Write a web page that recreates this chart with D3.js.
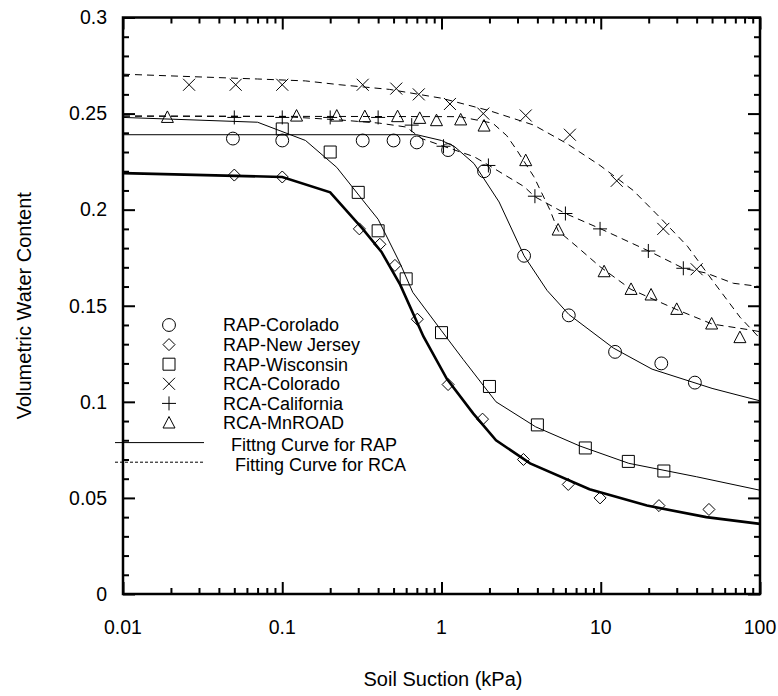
<!DOCTYPE html>
<html>
<head>
<meta charset="utf-8">
<script src="https://cdn.jsdelivr.net/npm/d3@7"></script>
<style>
  body { margin: 0; background: #fff; }
  text { font-family: "Liberation Sans", Arial, sans-serif; fill: #000; }
</style>
</head>
<body>
<svg id="chart"></svg>
<script>
// measured points (suction kPa, volumetric water content)
const rapColorado = [[0.049,0.237],[0.1,0.236],[0.32,0.236],[0.5,0.236],[0.7,0.235],[1.1,0.231],[1.85,0.22],[3.3,0.176],[6.3,0.145],[12.3,0.126],[24,0.12],[39,0.11]];
const rapNewJersey = [[0.05,0.218],[0.1,0.217],[0.305,0.19],[0.41,0.182],[0.51,0.171],[0.705,0.143],[1.1,0.109],[1.81,0.091],[3.27,0.07],[6.25,0.057],[9.9,0.05],[23.2,0.046],[47.8,0.044]];
const rapWisconsin = [[0.1,0.242],[0.2,0.23],[0.3,0.209],[0.4,0.189],[0.6,0.164],[1.0,0.136],[2.0,0.108],[4.0,0.088],[8.0,0.076],[14.9,0.069],[24.9,0.064]];
const rcaColorado = [[0.026,0.265],[0.051,0.265],[0.1,0.265],[0.32,0.265],[0.52,0.263],[0.72,0.26],[1.13,0.255],[1.83,0.25],[3.38,0.249],[6.4,0.239],[12.6,0.215],[24.7,0.19],[40,0.169]];
const rcaCalifornia = [[0.05,0.248],[0.1,0.248],[0.2,0.248],[0.4,0.248],[0.65,0.244],[1.03,0.233],[1.97,0.223],[3.86,0.207],[6,0.198],[9.9,0.19],[19.9,0.1785],[33,0.1695]];
const rcaMnroad = [[0.019,0.248],[0.123,0.2487],[0.22,0.2487],[0.33,0.2484],[0.53,0.2484],[0.73,0.2475],[0.93,0.2463],[1.32,0.2467],[1.85,0.2435],[3.38,0.2255],[5.4,0.1894],[10.5,0.1677],[15.5,0.1585],[20.7,0.1556],[30,0.1481],[49.7,0.1405],[74.8,0.1334]];

// fitting curves
const fitRapColorado = [[0.01,0.239],[0.7,0.239],[1.0,0.236],[1.2,0.233],[1.6,0.224],[2.3,0.204],[3.3,0.176],[4.6,0.158],[6.3,0.1455],[12,0.128],[21,0.117],[50,0.107],[100,0.1005]];
const fitRapNewJersey = [[0.01,0.219],[0.1,0.217],[0.2,0.209],[0.32,0.19],[0.42,0.178],[0.55,0.161],[0.77,0.134],[1.08,0.112],[1.58,0.094],[2.2,0.08],[3.6,0.068],[8.5,0.0545],[19.5,0.046],[46,0.04],[100,0.0365]];
const fitRapWisconsin = [[0.01,0.248],[0.07,0.2455],[0.14,0.236],[0.22,0.222],[0.32,0.205],[0.4,0.195],[0.55,0.172],[0.66,0.157],[1.0,0.137],[1.37,0.122],[2.2,0.1],[3.9,0.087],[7.4,0.077],[15,0.068],[40,0.061],[100,0.054]];
const fitRcaColorado = [[0.01,0.2705],[0.07,0.268],[0.14,0.267],[0.23,0.265],[0.47,0.2626],[1.0,0.258],[2.0,0.2515],[3.8,0.244],[6.1,0.2345],[9.9,0.223],[16,0.21],[23.5,0.196],[35,0.181],[51,0.1625],[75,0.144],[100,0.133]];
const fitRcaCalifornia = [[0.01,0.2487],[0.1,0.2485],[0.23,0.2467],[0.41,0.245],[0.6,0.243],[0.75,0.237],[1.03,0.233],[1.6,0.2276],[1.97,0.2232],[3.3,0.212],[3.86,0.2067],[6,0.198],[10,0.19],[20,0.1785],[33,0.1695],[46,0.167],[68,0.1617],[100,0.16]];
const fitRcaMnroad = [[0.01,0.2487],[1.3,0.2484],[2.1,0.245],[2.57,0.2385],[2.97,0.231],[3.8,0.2172],[4.8,0.1998],[5.4,0.189],[7.1,0.1807],[9.9,0.1703],[15.5,0.1585],[30,0.148],[50,0.1405],[87,0.1374],[100,0.1365]];

const seriesNames = ["RAP-Corolado", "RAP-New Jersey", "RAP-Wisconsin", "RCA-Colorado", "RCA-California", "RCA-MnROAD"];
const fitNames = ["Fittng Curve for RAP", "Fitting Curve for RCA"];
const xTickValues = [0.01, 0.1, 1, 10, 100];
const xTickLabels = ["0.01", "0.1", "1", "10", "100"];
const yTickValues = [0, 0.05, 0.1, 0.15, 0.2, 0.25, 0.3];
const yTickLabels = ["0", "0.05", "0.1", "0.15", "0.2", "0.25", "0.3"];

const width = 778, height = 696;
const plotLeft = 123, plotRight = 760, plotTop = 17.5, plotBottom = 594;

const svg = d3.select("#chart").attr("width", width).attr("height", height);

const x = d3.scaleLog().domain([0.01, 100]).range([plotLeft, plotRight]);
const y = d3.scaleLinear().domain([0, 0.3]).range([plotBottom, plotTop]);

// minor tick positions
const xMinor = [];
[0.01, 0.1, 1, 10].forEach(d => { for (let k = 2; k <= 9; k++) xMinor.push(d * k); });
const yMinor = d3.range(0, 31).map(i => i / 100).filter(v => Math.round(v * 100) % 5 !== 0);

function addAxis(axisFn, scale, values, size, transform) {
  const g = svg.append("g")
    .attr("transform", transform)
    .call(axisFn(scale).tickValues(values).tickSize(size).tickPadding(0).tickFormat(""));
  g.select(".domain").remove();
  g.selectAll(".tick line").attr("stroke", "#000").attr("stroke-width", 2);
  return g;
}

// ticks pointing into the plot on all four sides
addAxis(d3.axisBottom, x, xTickValues, -12, `translate(0,${plotBottom})`);
addAxis(d3.axisBottom, x, xMinor, -6, `translate(0,${plotBottom})`);
addAxis(d3.axisTop, x, xTickValues, -12, `translate(0,${plotTop})`);
addAxis(d3.axisTop, x, xMinor, -6, `translate(0,${plotTop})`);
addAxis(d3.axisLeft, y, yTickValues, -12, `translate(${plotLeft},0)`);
addAxis(d3.axisLeft, y, yMinor, -6, `translate(${plotLeft},0)`);
addAxis(d3.axisRight, y, yTickValues, -12, `translate(${plotRight},0)`);
addAxis(d3.axisRight, y, yMinor, -6, `translate(${plotRight},0)`);

// tick labels
svg.append("g").selectAll("text")
  .data(xTickValues)
  .join("text")
  .attr("x", d => x(d))
  .attr("y", 634)
  .attr("text-anchor", "middle")
  .attr("font-size", 19.5)
  .text((d, i) => xTickLabels[i]);

svg.append("g").selectAll("text")
  .data(yTickValues)
  .join("text")
  .attr("x", 107)
  .attr("y", d => y(d))
  .attr("dy", "0.35em")
  .attr("text-anchor", "end")
  .attr("font-size", 19.5)
  .text((d, i) => yTickLabels[i]);

// frame
svg.append("rect")
  .attr("x", plotLeft).attr("y", plotTop)
  .attr("width", plotRight - plotLeft).attr("height", plotBottom - plotTop)
  .attr("fill", "none").attr("stroke", "#000").attr("stroke-width", 2.5);

// axis titles
svg.append("text")
  .attr("x", 443)
  .attr("y", 686)
  .attr("text-anchor", "middle")
  .attr("font-size", 20)
  .text("Soil Suction (kPa)");

svg.append("text")
  .attr("transform", `translate(31,${(plotTop + plotBottom) / 2}) rotate(-90)`)
  .attr("text-anchor", "middle")
  .attr("font-size", 20)
  .text("Volumetric Water Content");

// fitting curves
const line = d3.line().x(d => x(d[0])).y(d => y(d[1]));
const fits = [
  { data: fitRapColorado, w: 1, dash: null },
  { data: fitRapWisconsin, w: 1, dash: null },
  { data: fitRapNewJersey, w: 2.6, dash: null },
  { data: fitRcaColorado, w: 1, dash: "7,5" },
  { data: fitRcaCalifornia, w: 1, dash: "7,5" },
  { data: fitRcaMnroad, w: 1, dash: "7,5" }
];
svg.append("g").selectAll("path")
  .data(fits)
  .join("path")
  .attr("d", d => line(d.data))
  .attr("fill", "none")
  .attr("stroke", "#000")
  .attr("stroke-width", d => d.w)
  .attr("stroke-dasharray", d => d.dash);

// marker shapes
function marker(type) {
  switch (type) {
    case "circle": return d3.symbol(d3.symbolCircle, 130)();
    case "diamond": return "M0,-6L6,0L0,6L-6,0Z";
    case "square": return "M-6,-6H6V6H-6Z";
    case "x": return "M-6,-6L6,6M-6,6L6,-6";
    case "plus": return "M-7,0H7M0,-7V7";
    case "triangle": return "M0,-6.5L6,5L-6,5Z";
  }
}

const pointSeries = [
  { name: seriesNames[0], data: rapColorado, shape: "circle" },
  { name: seriesNames[1], data: rapNewJersey, shape: "diamond" },
  { name: seriesNames[2], data: rapWisconsin, shape: "square" },
  { name: seriesNames[3], data: rcaColorado, shape: "x" },
  { name: seriesNames[4], data: rcaCalifornia, shape: "plus" },
  { name: seriesNames[5], data: rcaMnroad, shape: "triangle" }
];

pointSeries.forEach(s => {
  svg.append("g").selectAll("path")
    .data(s.data)
    .join("path")
    .attr("transform", d => `translate(${x(d[0])},${y(d[1])})`)
    .attr("d", marker(s.shape))
    .attr("fill", "none")
    .attr("stroke", "#000")
    .attr("stroke-width", 1);
});

// legend
const legend = svg.append("g");
const rowY = d3.range(8).map(i => 325 + i * 19.6);

pointSeries.forEach((s, i) => {
  legend.append("path")
    .attr("transform", `translate(169,${rowY[i]})`)
    .attr("d", marker(s.shape))
    .attr("fill", "none")
    .attr("stroke", "#000");
  legend.append("text")
    .attr("x", 223)
    .attr("y", rowY[i])
    .attr("dy", "0.35em")
    .attr("font-size", 18)
    .text(s.name);
});

fitNames.forEach((name, i) => {
  const yy = rowY[6 + i];
  legend.append("line")
    .attr("x1", 115).attr("x2", 204)
    .attr("y1", yy).attr("y2", yy)
    .attr("stroke", "#000")
    .attr("stroke-width", 1)
    .attr("stroke-dasharray", i === 1 ? "3,2" : null);
  legend.append("text")
    .attr("x", i === 0 ? 231 : 235)
    .attr("y", yy + 2)
    .attr("dy", "0.35em")
    .attr("font-size", 18)
    .text(name);
});
</script>
</body>
</html>
